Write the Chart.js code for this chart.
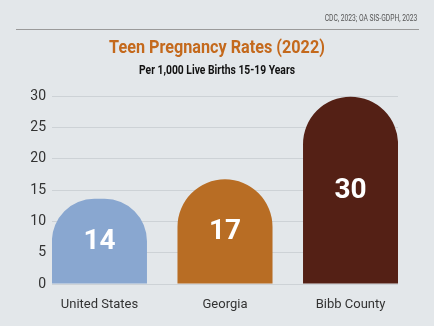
<!DOCTYPE html>
<html><head><meta charset="utf-8">
<script src="https://cdn.jsdelivr.net/npm/chart.js@4"></script>
<style>
html,body{margin:0;padding:0;background:#e3e7ea;width:434px;height:326px;overflow:hidden;}
#wrap{position:relative;width:434px;height:326px;}
canvas{position:absolute;left:0;top:0;}
.src{position:absolute;right:17px;top:13px;font:8.5px Roboto,sans-serif;color:#555;white-space:nowrap;transform:scaleX(0.79);transform-origin:right center;}
.rule{position:absolute;left:16px;width:403px;top:29px;height:1px;background:#9a9a9a;}
.title{position:absolute;left:0;width:434px;top:36px;text-align:center;font:bold 18px Roboto,sans-serif;color:#c4691c;white-space:nowrap;transform:scaleX(0.9);transform-origin:center center;}
.sub{position:absolute;left:0;width:434px;top:63px;text-align:center;font:bold 12px Roboto,sans-serif;color:#111;white-space:nowrap;transform:scaleX(0.86);transform-origin:center center;}
</style>
</head><body>
<div id="wrap">
<canvas id="c" width="434" height="326"></canvas>
<div class="src">CDC, 2023; OA SIS-GDPH, 2023</div>
<div class="rule"></div>
<div class="title">Teen Pregnancy Rates (2022)</div>
<div class="sub">Per 1,000 Live Births 15-19 Years</div>
</div>
<script>
const categories = ['United States', 'Georgia', 'Bibb County'];
const rates = [13.6, 16.7, 29.9];
const rateLabels = ['14', '17', '30'];
const barColors = ['#89a7d0', '#b86d24', '#542015'];
const yTickStep = 5;
const yMax = 30;

const valueLabels = {
  id: 'valueLabels',
  afterDatasetsDraw(chart) {
    const ctx = chart.ctx;
    const meta = chart.getDatasetMeta(0);
    ctx.save();
    ctx.fillStyle = '#ffffff';
    ctx.font = 'bold 28px Roboto';
    ctx.textAlign = 'center';
    ctx.textBaseline = 'middle';
    meta.data.forEach((el, i) => {
      ctx.fillText(rateLabels[i], el.x, (el.y + el.base) / 2 + 1);
    });
    ctx.restore();
  }
};

new Chart(document.getElementById('c'), {
  type: 'bar',
  data: {
    datasets: [{
      data: rates.map((v, i) => ({ x: i, y: v })),
      backgroundColor: barColors,
      borderRadius: 60,
      borderSkipped: 'start',
      barPercentage: 0.757,
      categoryPercentage: 1
    }]
  },
  options: {
    responsive: false,
    animation: false,
    devicePixelRatio: 1,
    layout: { padding: { top: 96, right: 36, bottom: 0, left: 0 } },
    plugins: { legend: { display: false }, tooltip: { enabled: false } },
    scales: {
      x: {
        type: 'linear',
        min: -0.378,
        max: 2.378,
        offset: false,
        grid: { display: false },
        border: { display: false },
        afterBuildTicks: s => { s.ticks = categories.map((c, i) => ({ value: i })); },
        afterFit: s => { s.height = 42; },
        ticks: {
          autoSkip: false,
          maxRotation: 0,
          padding: 5,
          color: '#333',
          font: { family: 'Roboto', size: 13 },
          callback: v => categories[v]
        }
      },
      y: {
        min: 0,
        max: yMax,
        grid: { color: '#cdd2d6', lineWidth: 1, drawTicks: false },
        border: { display: false },
        afterFit: s => { s.width = 52; },
        ticks: {
          stepSize: yTickStep,
          padding: 6,
          color: '#333',
          font: { family: 'Roboto', size: 14 }
        }
      }
    }
  },
  plugins: [valueLabels]
});
</script>
</body></html>
